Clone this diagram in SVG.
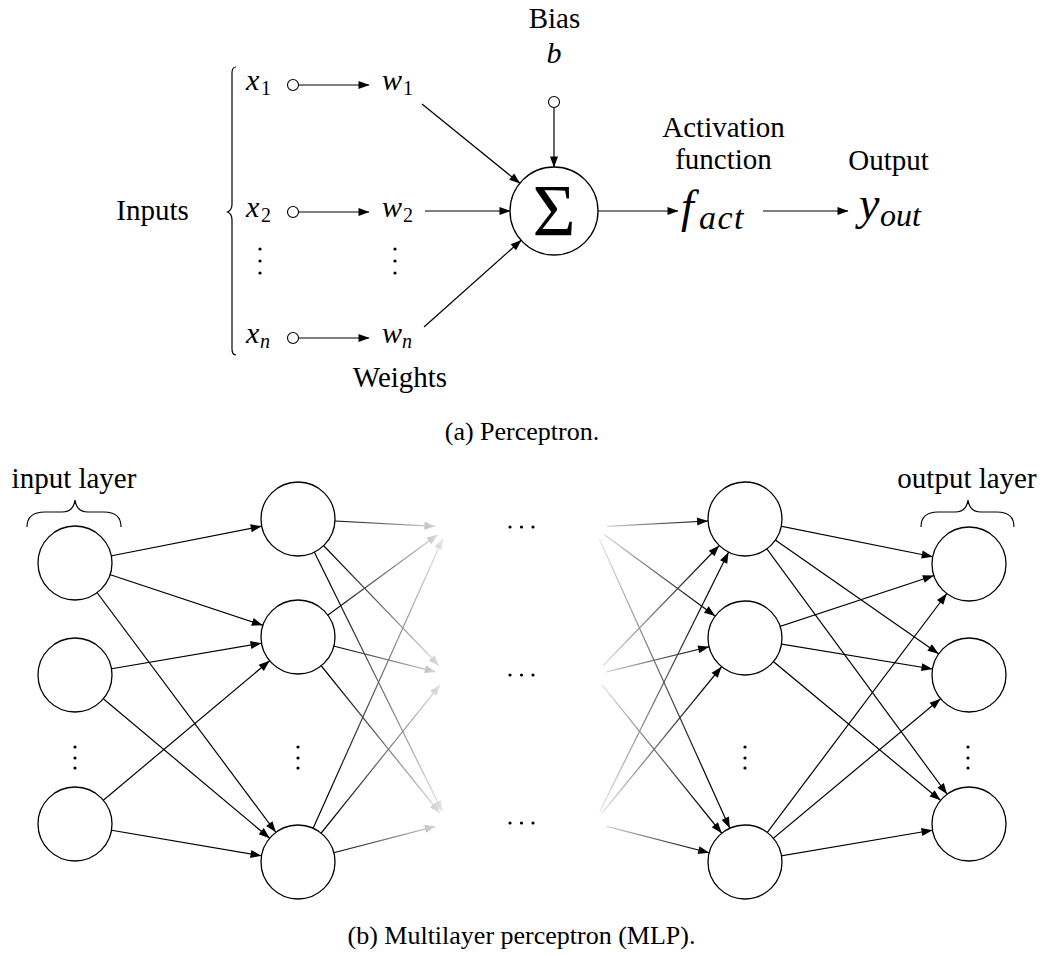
<svg xmlns="http://www.w3.org/2000/svg" width="1043" height="956" viewBox="0 0 1043 956">
<defs>
<style>
.ln{stroke:#000;stroke-width:1.2;fill:none}
.a{marker-end:url(#ah)}
.ac{marker-end:url(#ahc)}
.nd{fill:#fff;stroke:#000;stroke-width:1.3}
.sm{fill:#fff;stroke:#000;stroke-width:1.1}
.t{font-family:"Liberation Serif","Times New Roman",serif;font-size:29px;fill:#000}
.m{font-family:"Liberation Serif","Times New Roman",serif;font-style:italic;font-size:30px;fill:#000}
.sub{font-size:20px;font-style:normal}
.subi{font-size:20px}
.cap{font-family:"Liberation Serif","Times New Roman",serif;font-size:26px;fill:#000}
.sig{font-family:"Liberation Serif","Times New Roman",serif;font-size:74px;fill:#000}
.dot{fill:#000}
</style>
<marker id="ah" markerUnits="userSpaceOnUse" orient="auto" overflow="visible" refX="0" refY="0" markerWidth="12" markerHeight="10"><path d="M0.5,0 L-10.5,-4 L-10.5,4 Z" fill="#000"/></marker>
<marker id="ahc" markerUnits="userSpaceOnUse" orient="auto" overflow="visible" refX="37" refY="0" markerWidth="12" markerHeight="10"><path d="M0,0 L-11,-4 L-11,4 Z" fill="#000"/></marker>
<linearGradient id="gl" gradientUnits="userSpaceOnUse" x1="330" y1="0" x2="442" y2="0"><stop offset="0" stop-color="#fff"/><stop offset="1" stop-color="#1a1a1a"/></linearGradient>
<linearGradient id="gr" gradientUnits="userSpaceOnUse" x1="600" y1="0" x2="705" y2="0"><stop offset="0" stop-color="#1a1a1a"/><stop offset="1" stop-color="#fff"/></linearGradient>
<mask id="ml" maskUnits="userSpaceOnUse" x="0" y="0" width="1043" height="956"><rect x="0" y="0" width="1043" height="956" fill="url(#gl)"/></mask>
<mask id="mr" maskUnits="userSpaceOnUse" x="0" y="0" width="1043" height="956"><rect x="0" y="0" width="1043" height="956" fill="url(#gr)"/></mask>
</defs>
<rect x="0" y="0" width="1043" height="956" fill="#fff"/>

<!-- ===== (a) Perceptron ===== -->
<g id="connectors-a" class="ln">
<line class="a" x1="298.5" y1="85" x2="369" y2="85"/>
<line class="a" x1="298.5" y1="212" x2="369" y2="212"/>
<line class="a" x1="298.5" y1="338" x2="369" y2="338"/>
<line class="a" x1="422" y1="104" x2="519.8" y2="183.3"/>
<line class="a" x1="425" y1="211" x2="510" y2="211"/>
<line class="a" x1="424" y1="327" x2="521.2" y2="240.3"/>
<line class="a" x1="554" y1="107.5" x2="554" y2="167"/>
<line class="a" x1="598" y1="211" x2="678" y2="211"/>
<line class="a" x1="763" y1="211" x2="848" y2="211"/>
</g>

<g id="inputs-brace">
<path class="ln" d="M236,67 C233,67 232,69 232,73 L232,204 C232,209 230,211 227.5,212 C230,213 232,215 232,220 L232,349 C232,353 233,355 236,355"/>
<text class="t" x="152.5" y="220" text-anchor="middle">Inputs</text>
</g>

<g id="x1"><text class="m" x="246" y="90">x<tspan class="sub" x="261" dy="5">1</tspan></text><circle class="sm" cx="293" cy="85" r="5.5"/></g>
<g id="x2"><text class="m" x="246" y="217">x<tspan class="sub" x="261" dy="5">2</tspan></text><circle class="sm" cx="293" cy="212" r="5.5"/></g>
<g id="xn"><text class="m" x="246" y="343">x<tspan class="subi" x="260" dy="5">n</tspan></text><circle class="sm" cx="293" cy="338" r="5.5"/></g>
<g id="xdots"><circle class="dot" cx="260" cy="249" r="1.6"/><circle class="dot" cx="260" cy="261" r="1.6"/><circle class="dot" cx="260" cy="273" r="1.6"/></g>

<g id="w1"><text class="m" x="382" y="90">w<tspan class="sub" x="403" dy="5">1</tspan></text></g>
<g id="w2"><text class="m" x="382" y="217">w<tspan class="sub" x="403" dy="5">2</tspan></text></g>
<g id="wn"><text class="m" x="382" y="343">w<tspan class="subi" x="402" dy="5">n</tspan></text></g>
<g id="wdots"><circle class="dot" cx="395" cy="249" r="1.6"/><circle class="dot" cx="395" cy="261" r="1.6"/><circle class="dot" cx="395" cy="273" r="1.6"/></g>
<g id="weights-label"><text class="t" x="400" y="387" text-anchor="middle">Weights</text></g>

<g id="bias">
<text class="t" x="554.5" y="28" text-anchor="middle">Bias</text>
<text class="m" x="554" y="63" text-anchor="middle">b</text>
<circle class="sm" cx="554" cy="102" r="5.5"/>
</g>

<g id="sum">
<circle class="nd" cx="554" cy="211" r="44"/>
<text class="sig" x="554" y="236" text-anchor="middle">Σ</text>
</g>

<g id="activation">
<text class="t" x="723.5" y="137" text-anchor="middle">Activation</text>
<text class="t" x="723.5" y="169" text-anchor="middle">function</text>
<text class="m" x="681" y="222" style="font-size:46px">f</text>
<text class="m" x="699" y="229" style="font-size:34px;letter-spacing:1.5px">act</text>
</g>

<g id="output">
<text class="t" x="888.5" y="170" text-anchor="middle">Output</text>
<text class="m" x="859" y="219" style="font-size:46px">y</text>
<text class="m" x="880" y="226" style="font-size:32px">out</text>
</g>

<g id="caption-a"><text class="cap" x="522" y="440" text-anchor="middle">(a) Perceptron.</text></g>

<!-- ===== (b) MLP ===== -->
<g id="connectors-b">
<g class="ln">
<line class="ac" x1="75" y1="563" x2="298" y2="519"/>
<line class="ac" x1="75" y1="563" x2="298" y2="637"/>
<line class="ac" x1="75" y1="563" x2="298" y2="862"/>
<line class="ac" x1="75" y1="675" x2="298" y2="637"/>
<line class="ac" x1="75" y1="675" x2="298" y2="862"/>
<line class="ac" x1="75" y1="824" x2="298" y2="637"/>
<line class="ac" x1="75" y1="824" x2="298" y2="862"/>

<line class="ac" x1="745" y1="519" x2="969" y2="564"/>
<line class="ac" x1="745" y1="519" x2="969" y2="675"/>
<line class="ac" x1="745" y1="519" x2="969" y2="824"/>
<line class="ac" x1="745" y1="638" x2="969" y2="564"/>
<line class="ac" x1="745" y1="638" x2="969" y2="675"/>
<line class="ac" x1="745" y1="638" x2="969" y2="824"/>
<line class="ac" x1="745" y1="862" x2="969" y2="564"/>
<line class="ac" x1="745" y1="862" x2="969" y2="675"/>
<line class="ac" x1="745" y1="862" x2="969" y2="824"/>
</g>
<g class="ln" mask="url(#ml)">
<line class="a" x1="298" y1="519" x2="435.0" y2="526.3"/>
<line class="a" x1="298" y1="519" x2="439.0" y2="665.6"/>
<line class="a" x1="298" y1="519" x2="442.2" y2="811.3"/>
<line class="a" x1="298" y1="637" x2="437.5" y2="534.7"/>
<line class="a" x1="298" y1="637" x2="435.4" y2="671.8"/>
<line class="a" x1="298" y1="637" x2="439.8" y2="812.9"/>
<line class="a" x1="298" y1="862" x2="442.7" y2="538.9"/>
<line class="a" x1="298" y1="862" x2="439.9" y2="685.1"/>
<line class="a" x1="298" y1="862" x2="435.4" y2="826.3"/>
</g>
<g class="ln" mask="url(#mr)">
<line class="ac" x1="607.0" y1="526.3" x2="745" y2="519"/>
<line class="ac" x1="604.5" y1="534.7" x2="745" y2="638"/>
<line class="ac" x1="599.3" y1="538.9" x2="745" y2="862"/>
<line class="ac" x1="603.0" y1="665.7" x2="745" y2="519"/>
<line class="ac" x1="606.6" y1="671.9" x2="745" y2="638"/>
<line class="ac" x1="602.2" y1="685.1" x2="745" y2="862"/>
<line class="ac" x1="599.8" y1="811.4" x2="745" y2="519"/>
<line class="ac" x1="602.2" y1="812.9" x2="745" y2="638"/>
<line class="ac" x1="606.6" y1="826.3" x2="745" y2="862"/>
</g>
</g>

<g id="input-layer">
<text class="t" x="74" y="488" text-anchor="middle">input layer</text>
<path class="ln" d="M27,527 C27,517 33,512 45,512 L62,512 C70,512 74,508 75,500 C76,508 80,512 88,512 L104,512 C116,512 121,517 121,527"/>
<circle class="nd" cx="75" cy="563" r="37"/>
<circle class="nd" cx="75" cy="675" r="37"/>
<circle class="nd" cx="75" cy="824" r="37"/>
<circle class="dot" cx="75" cy="747" r="1.6"/><circle class="dot" cx="75" cy="758" r="1.6"/><circle class="dot" cx="75" cy="768" r="1.6"/>
</g>

<g id="hidden-layer-1">
<circle class="nd" cx="298" cy="519" r="37"/>
<circle class="nd" cx="298" cy="637" r="37"/>
<circle class="nd" cx="298" cy="862" r="37"/>
<circle class="dot" cx="298" cy="747" r="1.6"/><circle class="dot" cx="298" cy="758" r="1.6"/><circle class="dot" cx="298" cy="768" r="1.6"/>
</g>

<g id="middle-ellipsis">
<circle class="dot" cx="510" cy="527" r="1.6"/><circle class="dot" cx="521.5" cy="527" r="1.6"/><circle class="dot" cx="533" cy="527" r="1.6"/>
<circle class="dot" cx="510" cy="675" r="1.6"/><circle class="dot" cx="521.5" cy="675" r="1.6"/><circle class="dot" cx="533" cy="675" r="1.6"/>
<circle class="dot" cx="510" cy="823" r="1.6"/><circle class="dot" cx="521.5" cy="823" r="1.6"/><circle class="dot" cx="533" cy="823" r="1.6"/>
</g>

<g id="hidden-layer-2">
<circle class="nd" cx="745" cy="519" r="37"/>
<circle class="nd" cx="745" cy="638" r="37"/>
<circle class="nd" cx="745" cy="862" r="37"/>
<circle class="dot" cx="745" cy="747" r="1.6"/><circle class="dot" cx="745" cy="758" r="1.6"/><circle class="dot" cx="745" cy="768" r="1.6"/>
</g>

<g id="output-layer">
<text class="t" x="967" y="488" text-anchor="middle">output layer</text>
<path class="ln" d="M921,527 C921,517 926,512 938,512 L955,512 C963,512 967,508 968,500 C969,508 973,512 981,512 L997,512 C1009,512 1014,517 1014,527"/>
<circle class="nd" cx="969" cy="564" r="37"/>
<circle class="nd" cx="969" cy="675" r="37"/>
<circle class="nd" cx="969" cy="824" r="37"/>
<circle class="dot" cx="968" cy="747" r="1.6"/><circle class="dot" cx="968" cy="758" r="1.6"/><circle class="dot" cx="968" cy="768" r="1.6"/>
</g>

<g id="caption-b"><text class="cap" x="521.5" y="944" text-anchor="middle">(b) Multilayer perceptron (MLP).</text></g>
</svg>
